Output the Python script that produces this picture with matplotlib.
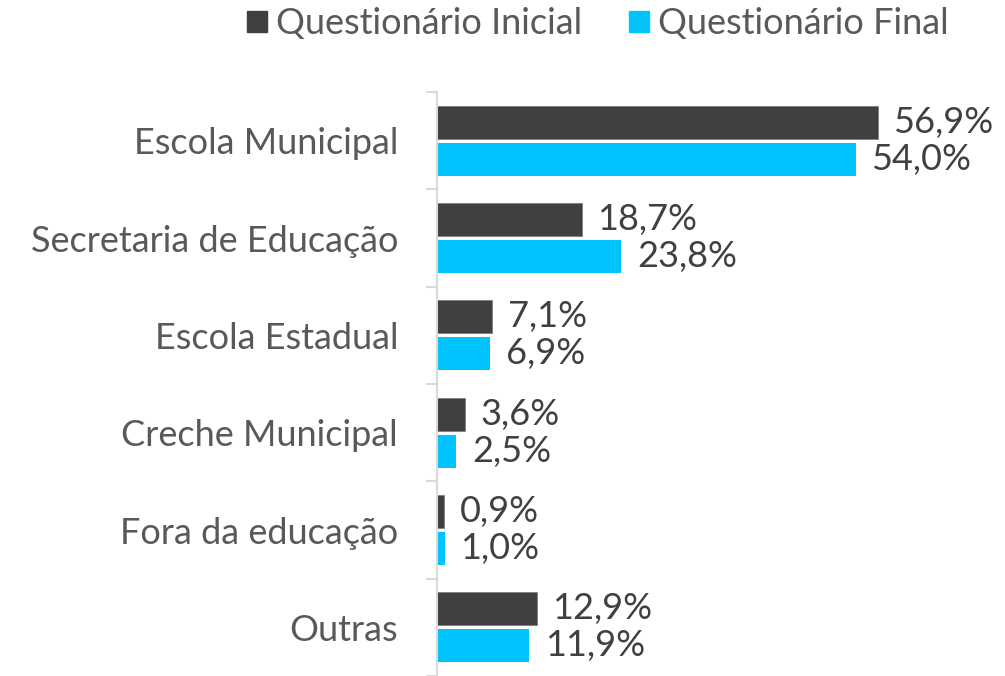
import numpy as np
import matplotlib.pyplot as plt
import matplotlib.ticker as ticker
from matplotlib.patches import Patch

# data
categories = ["Escola Municipal", "Secretaria de Educação", "Escola Estadual",
              "Creche Municipal", "Fora da educação", "Outras"]
inicial = [56.9, 18.7, 7.1, 3.6, 0.9, 12.9]
final = [54.0, 23.8, 6.9, 2.5, 1.0, 11.9]
series_names = ["Questionário Inicial", "Questionário Final"]

colors = ["#404040", "#00C3FF"]
txtColor = "#595959"

plt.rcParams['font.family'] = ['Lato', 'DejaVu Sans']

f = plt.figure(figsize=(10.05, 6.76), dpi=100)
ax = f.add_axes([437/1005, 0.0, 1 - 437/1005, 1 - 92/676])

y = np.arange(len(categories))
h = 0.34
off = 0.19

ax.barh(y - off, inicial, height=h, color=colors[0], edgecolor="#7f7f7f", linewidth=0.6)
ax.barh(y + off, final, height=h, color=colors[1])

for i in range(len(categories)):
    ax.text(inicial[i] + 2.0, y[i] - off, f"{inicial[i]:.1f}%".replace(".", ","),
            va="center", ha="left", fontsize=26, color="#404040")
    ax.text(final[i] + 2.0, y[i] + off, f"{final[i]:.1f}%".replace(".", ","),
            va="center", ha="left", fontsize=26, color="#404040")

ax.set_xlim(0, (1005 - 437) / 7.75)
ax.set_ylim(len(categories) - 0.5, -0.5)

ax.set_yticks(y)
ax.set_yticklabels(categories, fontsize=26, color=txtColor)
ax.tick_params(axis="y", which="major", length=0, pad=28)
ax.yaxis.set_minor_locator(ticker.FixedLocator(np.arange(-0.5, len(categories), 1.0)))
ax.tick_params(axis="y", which="minor", length=8, width=1.5, color="#D9D9D9")
ax.set_xticks([])

for s in ["top", "right", "bottom"]:
    ax.spines[s].set_visible(False)
ax.spines["left"].set_color("#D9D9D9")
ax.spines["left"].set_linewidth(1.5)

handles = [Patch(color=colors[0]), Patch(color=colors[1])]
f.legend(handles, series_names, loc="center", bbox_to_anchor=(0.595, 0.965), ncol=2,
         frameon=False, fontsize=26, labelcolor=txtColor, handlelength=0.55, handleheight=0.55,
         handletextpad=0.25, columnspacing=1.3)

plt.savefig("out.png", dpi=100)
